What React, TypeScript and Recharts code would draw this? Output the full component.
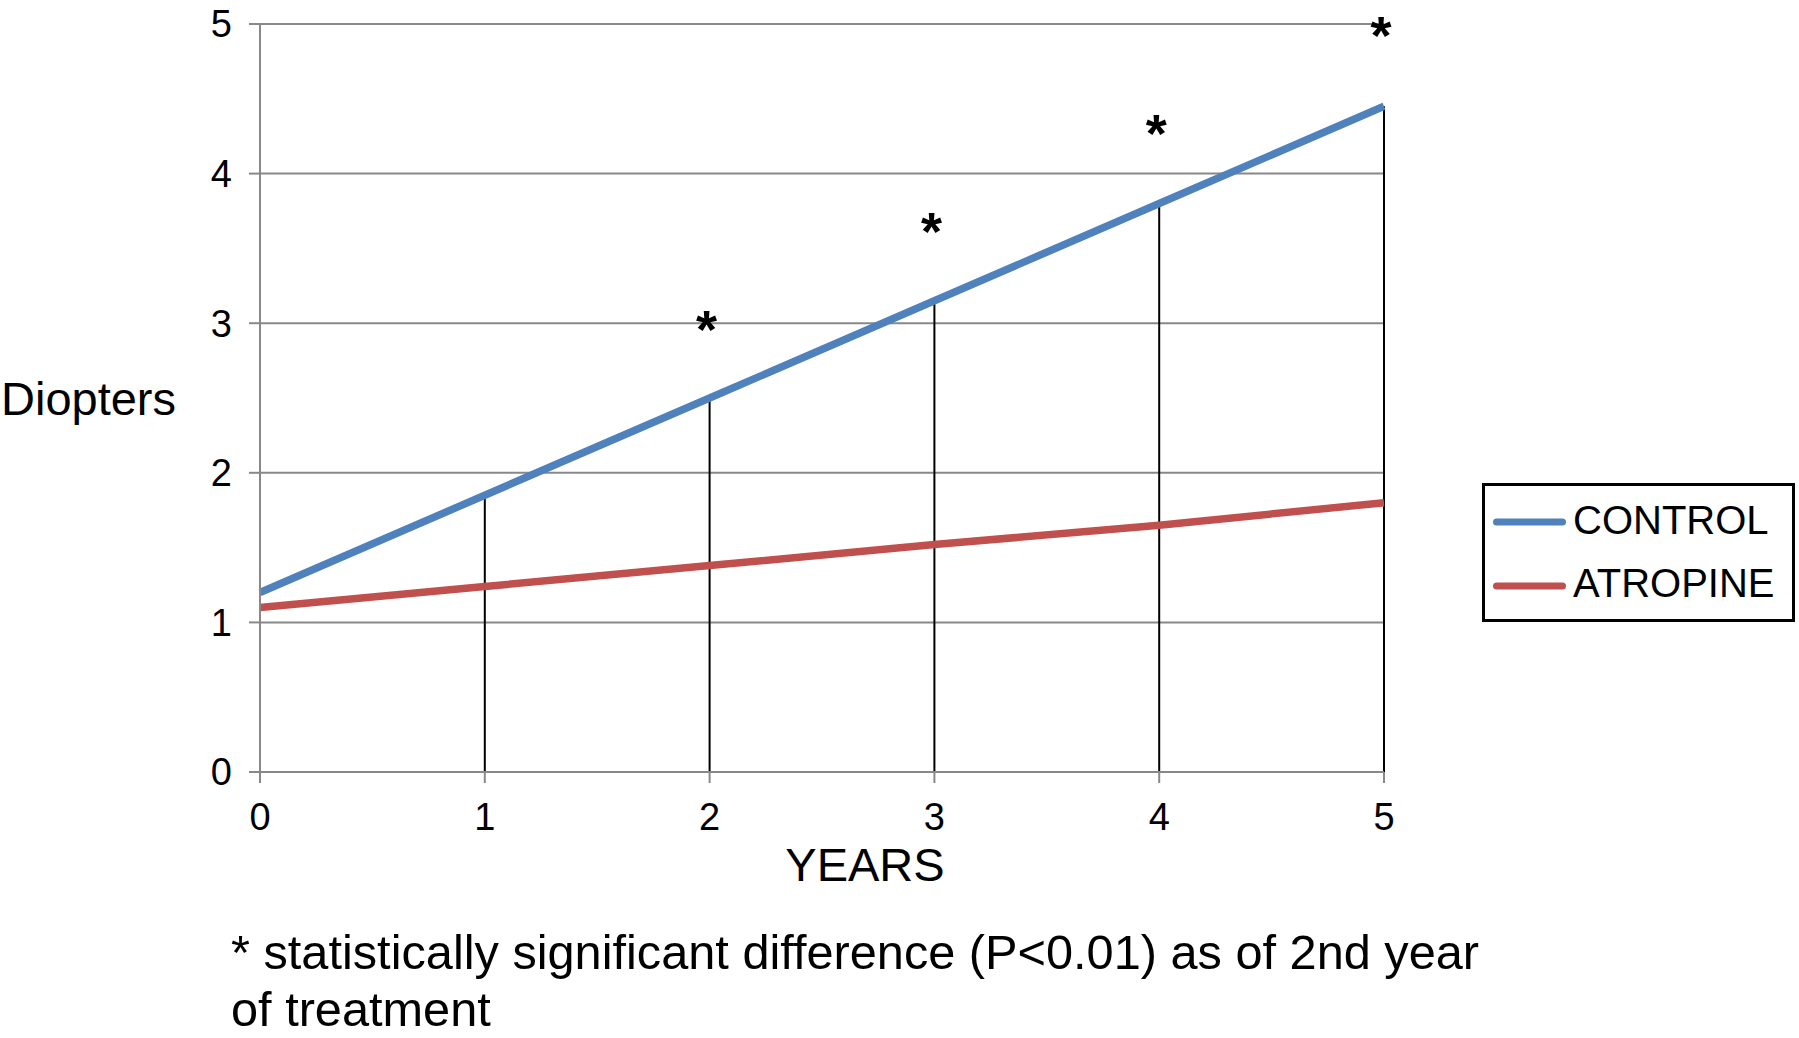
import React from 'react';
import {
  ComposedChart,
  Line,
  Scatter,
  XAxis,
  YAxis,
  CartesianGrid,
  ReferenceLine,
  Legend,
} from 'recharts';

const years = [0, 1, 2, 3, 4, 5];
const control = [1.2, 1.85, 2.5, 3.15, 3.8, 4.45];
const atropine = [1.1, 1.24, 1.38, 1.52, 1.65, 1.8];
const starYears = [2, 3, 4, 5];
const starLevels = [3.01, 3.66, 4.32, 4.97];
const axisTicks = [0, 1, 2, 3, 4, 5];
const seriesNames = ['CONTROL', 'ATROPINE'];

const FONT = '"Liberation Sans", Arial, Helvetica, sans-serif';
const GRID = '#888888';
const BLUE = '#4F81BD';
const RED = '#C0504D';

const data = years.map((year, i) => ({
  year,
  control: control[i],
  atropine: atropine[i],
}));

const stars = starYears.map((year, i) => ({ year, star: starLevels[i] }));

const StarMark = (props: any) => {
  const { cx, cy } = props;
  return (
    <text x={cx - 3} y={cy + 26} textAnchor="middle" fontSize={54} fontWeight="bold" fontFamily={FONT} fill="#000">
      *
    </text>
  );
};

const LegendBox = (props: any) => {
  const items = (props.payload || [])
    .filter((p: any) => seriesNames.includes(p.value))
    .sort((a: any, b: any) => seriesNames.indexOf(a.value) - seriesNames.indexOf(b.value));
  return (
    <svg width={313} height={139} style={{ display: 'block' }}>
      <rect x={1.5} y={1.5} width={310} height={136} fill="#fff" stroke="#000" strokeWidth={3} />
      {items.map((item: any, i: number) => (
        <g key={item.value}>
          <line
            x1={14.5}
            x2={80.5}
            y1={39 + i * 64}
            y2={39 + i * 64}
            stroke={item.color}
            strokeWidth={7}
            strokeLinecap="round"
          />
          <text x={91} y={51 + i * 63} fontSize={40} fontFamily={FONT} fill="#000">
            {item.value}
          </text>
        </g>
      ))}
    </svg>
  );
};

export default function App() {
  return (
    <div style={{ position: 'absolute', left: 0, top: 0, width: 1799, height: 1038, background: '#fff' }}>
      <ComposedChart
        width={1799}
        height={1038}
        data={data}
        margin={{ top: 24, right: 415, bottom: 0, left: 0 }}
        style={{ fontFamily: FONT }}
      >
        <CartesianGrid vertical={false} stroke={GRID} strokeWidth={2} />
        <XAxis
          dataKey="year"
          type="number"
          domain={[0, 5]}
          ticks={axisTicks}
          height={266}
          axisLine={{ stroke: GRID, strokeWidth: 2 }}
          tickLine={{ stroke: GRID, strokeWidth: 2 }}
          tickSize={11}
          tickMargin={20}
          tick={{ fill: '#000', fontSize: 38, fontFamily: FONT }}
          label={{ value: 'YEARS', position: 'insideTop', offset: 76, dx: 43, fill: '#000', fontSize: 47, fontFamily: FONT }}
        />
        <YAxis
          type="number"
          domain={[0, 5]}
          ticks={axisTicks}
          width={260}
          axisLine={{ stroke: GRID, strokeWidth: 2 }}
          tickLine={{ stroke: GRID, strokeWidth: 2 }}
          tickSize={11}
          tickMargin={17}
          tick={{ fill: '#000', fontSize: 38, fontFamily: FONT }}
          label={{ value: 'Diopters', position: 'insideLeft', offset: 1, fill: '#000', fontSize: 47, fontFamily: FONT }}
        />
        {years.map((year, i) => (
          <ReferenceLine
            key={year}
            segment={[{ x: year, y: 0 }, { x: year, y: control[i] }]}
            stroke="#000"
            strokeWidth={2}
          />
        ))}
        <Line
          type="linear"
          dataKey="control"
          name="CONTROL"
          stroke={BLUE}
          strokeWidth={7.5}
          dot={false}
          activeDot={false}
          isAnimationActive={false}
        />
        <Line
          type="linear"
          dataKey="atropine"
          name="ATROPINE"
          stroke={RED}
          strokeWidth={7.5}
          dot={false}
          activeDot={false}
          isAnimationActive={false}
        />
        <Scatter
          data={stars}
          dataKey="star"
          legendType="none"
          shape={StarMark}
          isAnimationActive={false}
        />
        <Legend
          layout="horizontal"
          verticalAlign="middle"
          align="center"
          content={LegendBox}
          wrapperStyle={{ position: 'absolute', left: 1482, top: 483, width: 313, height: 139 }}
        />
      </ComposedChart>
      <div
        style={{
          position: 'absolute',
          left: 231,
          top: 924,
          fontFamily: FONT,
          fontSize: 48.7,
          lineHeight: '57px',
          color: '#000',
          whiteSpace: 'nowrap',
        }}
      >
        * statistically significant difference (P&lt;0.01) as of 2nd year
        <br />
        of treatment
      </div>
    </div>
  );
}
